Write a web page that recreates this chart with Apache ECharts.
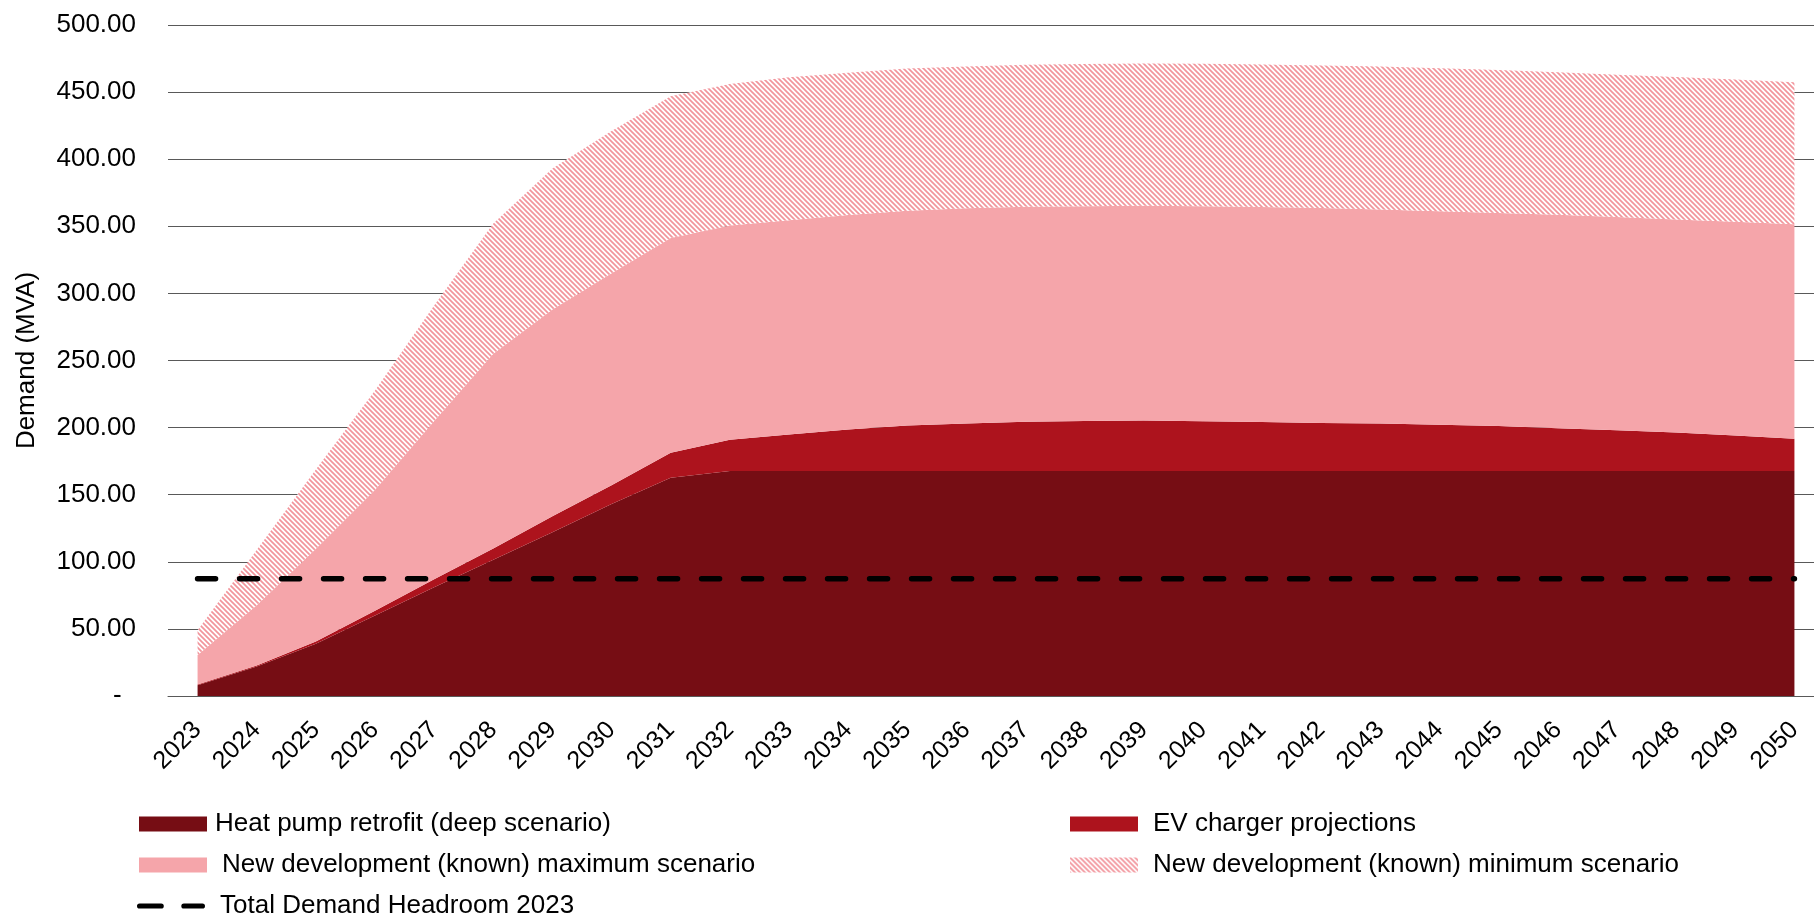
<!DOCTYPE html>
<html>
<head>
<meta charset="utf-8">
<script src="https://cdn.jsdelivr.net/npm/echarts@6/dist/echarts.min.js"></script>
<style>
html, body { margin: 0; padding: 0; background: #fff; overflow: hidden; }
/* plot runs past the right edge of the window, as in the original */
#chart { width: 1824px; height: 921px; }
</style>
</head>
<body>
<div id="chart"></div>
<script>
const years = ['2023', '2024', '2025', '2026', '2027', '2028', '2029', '2030', '2031', '2032',
    '2033', '2034', '2035', '2036', '2037', '2038', '2039', '2040', '2041', '2042',
    '2043', '2044', '2045', '2046', '2047', '2048', '2049', '2050']

const heatPump = [8, 22, 39, 60, 81, 101.6, 122, 143, 162.7, 167.7,
    167.7, 167.7, 167.7, 167.7, 167.7, 167.7, 167.7, 167.7, 167.7, 167.7,
    167.7, 167.7, 167.7, 167.7, 167.7, 167.7, 167.7, 167.7]

const evCharger = [0.5, 0.7, 1.7, 3.6, 6, 8.4, 12, 14, 18.6, 23.3,
    27.1, 30.8, 33.8, 35.3, 36.6, 37.3, 37.5, 37.1, 36.5, 35.8,
    35.3, 34.5, 33.4, 31.8, 30.3, 28.6, 26.5, 24]

const newDevMax = [22, 45, 69, 90, 118, 145, 154, 158, 160, 159.6,
    159.7, 160, 160, 160.5, 160.2, 160, 160.1, 160.2, 160.2, 160.1,
    159.6, 159.1, 158.9, 159.1, 158.9, 158.8, 159.2, 159.9]

const newDevMin = [18.5, 41, 59, 74, 86, 97, 105, 106, 105.7, 105.4,
    106.5, 106, 106, 105.5, 105.8, 106, 106.1, 106.2, 106.1, 106.2,
    106.4, 106.5, 106.4, 106.2, 106.1, 106.1, 105.9, 105.7]

const headroom = [87.3, 87.3, 87.3, 87.3, 87.3, 87.3, 87.3, 87.3, 87.3, 87.3,
    87.3, 87.3, 87.3, 87.3, 87.3, 87.3, 87.3, 87.3, 87.3, 87.3,
    87.3, 87.3, 87.3, 87.3, 87.3, 87.3, 87.3, 87.3]

const FONT = '"Liberation Sans", Arial, sans-serif'

// diagonal hatch on white for the minimum scenario
function hatch() {
    const c = document.createElement('canvas')
    c.width = 5
    c.height = 5
    const g = c.getContext('2d')
    g.fillStyle = '#fff'
    g.fillRect(0, 0, 5, 5)
    g.strokeStyle = '#f2959c'
    g.lineWidth = 1.7
    g.beginPath()
    g.moveTo(-1, -1); g.lineTo(6, 6)
    g.moveTo(-1, 4); g.lineTo(1, 6)
    g.moveTo(4, -1); g.lineTo(6, 1)
    g.stroke()
    return c
}
const hatchFill = { image: hatch(), repeat: 'repeat' }

// two rounded dashes for the headroom legend icon
const dashIcon = 'path://M2.5,0 H23.5 A2.5,2.5 0 0 1 23.5,5 H2.5 A2.5,2.5 0 0 1 2.5,0 Z ' +
    'M45.5,0 H63.5 A2.5,2.5 0 0 1 63.5,5 H45.5 A2.5,2.5 0 0 1 45.5,0 Z'

function areaSeries(name, data, color) {
    return {
        name: name,
        type: 'line',
        stack: 'total',
        symbol: 'none',
        data: data,
        lineStyle: { width: 0 },
        itemStyle: { color: color },
        areaStyle: { color: color, opacity: 1 }
    }
}

function legendBlock(left, top, items) {
    return {
        orient: 'vertical',
        left: left,
        top: top,
        padding: 0,
        itemWidth: 68,
        itemHeight: 15,
        itemGap: 11,
        textStyle: { fontSize: 26, color: '#000', lineHeight: 30, fontFamily: FONT, padding: [0, 0, 0, 10] },
        data: items
    }
}

const chart = echarts.init(document.getElementById('chart'))
chart.setOption({
    animation: false,
    textStyle: { fontFamily: FONT },
    grid: {
        left: 168,
        right: 0,
        top: 25,
        bottom: 225
    },
    legend: [
        legendBlock(139, 809, [
            { name: 'Heat pump retrofit (deep scenario)', icon: 'rect', textStyle: { padding: [0, 0, 0, 3] } },
            { name: 'New development (known) maximum scenario', icon: 'rect' }
        ]),
        legendBlock(137, 891, [
            { name: 'Total Demand Headroom 2023', icon: dashIcon }
        ]),
        legendBlock(1070, 809, [
            { name: 'EV charger projections', icon: 'rect' },
            { name: 'New development (known) minimum scenario', icon: 'rect' }
        ])
    ],
    xAxis: {
        type: 'category',
        data: years,
        boundaryGap: true,
        axisLine: { lineStyle: { color: '#595959', width: 1 } },
        axisTick: { show: false },
        axisLabel: {
            rotate: 45,
            margin: 30,
            interval: 0,
            fontSize: 25,
            color: '#000',
            fontFamily: FONT
        }
    },
    yAxis: {
        type: 'value',
        min: 0,
        max: 500,
        interval: 50,
        name: 'Demand (MVA)',
        nameLocation: 'middle',
        nameGap: 128,
        nameTextStyle: { fontSize: 26, color: '#000', fontFamily: FONT },
        axisLine: { show: false },
        axisTick: { show: false },
        axisLabel: {
            margin: 32,
            fontSize: 26,
            color: '#000',
            fontFamily: FONT,
            formatter: v => v === 0 ? '-  ' : v.toFixed(2)
        },
        splitLine: { lineStyle: { color: '#595959', width: 1 } }
    },
    series: [
        areaSeries('Heat pump retrofit (deep scenario)', heatPump, '#760d14'),
        areaSeries('EV charger projections', evCharger, '#ad131d'),
        areaSeries('New development (known) maximum scenario', newDevMax, '#f5a5aa'),
        areaSeries('New development (known) minimum scenario', newDevMin, hatchFill),
        {
            name: 'Total Demand Headroom 2023',
            type: 'line',
            symbol: 'none',
            data: headroom,
            itemStyle: { color: '#000' },
            lineStyle: { color: '#000', width: 5.5, type: [18, 24], cap: 'round' },
            z: 5
        }
    ]
})
window.addEventListener('resize', () => {
    chart.resize()
})
</script>
</body>
</html>
